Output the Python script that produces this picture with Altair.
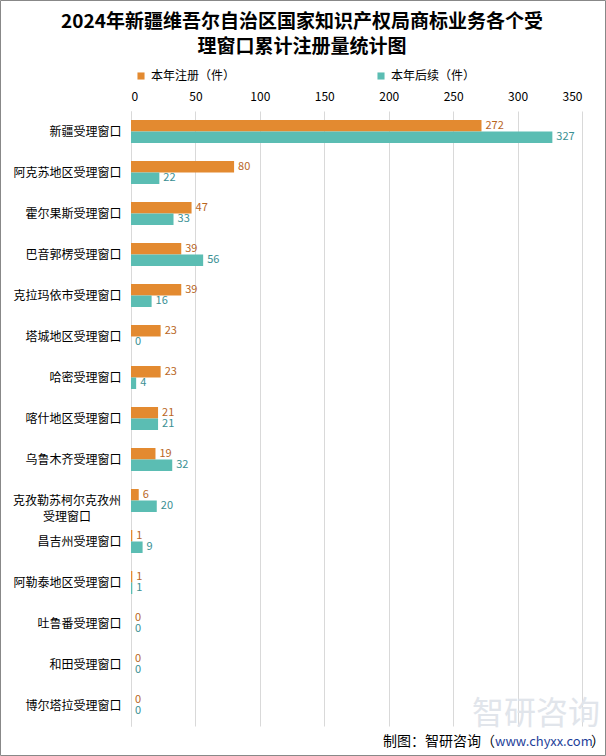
import altair as alt
import pandas as pd

categories = ["新疆受理窗口", "阿克苏地区受理窗口", "霍尔果斯受理窗口", "巴音郭楞受理窗口",
              "克拉玛依市受理窗口", "塔城地区受理窗口", "哈密受理窗口", "喀什地区受理窗口",
              "乌鲁木齐受理窗口", "克孜勒苏柯尔克孜州受理窗口", "昌吉州受理窗口",
              "阿勒泰地区受理窗口", "吐鲁番受理窗口", "和田受理窗口", "博尔塔拉受理窗口"]
registered = [272, 80, 47, 39, 39, 23, 23, 21, 19, 6, 1, 1, 0, 0, 0]
continued = [327, 22, 33, 56, 16, 0, 4, 21, 32, 20, 9, 1, 0, 0, 0]
series = ["本年注册（件）", "本年后续（件）"]
x_ticks = [0, 50, 100, 150, 200, 250, 300, 350]
title_lines = ["2024年新疆维吾尔自治区国家知识产权局商标业务各个受", "理窗口累计注册量统计图"]
long_cat = "克孜勒苏柯尔克孜州受理窗口"
long_cat_lines = "克孜勒苏柯尔克孜州\n受理窗口"

FONT = "Noto Sans CJK SC"
ORANGE = "#E38A30"
TEAL = "#5BBDB3"
ORANGE_LBL = "#B9661E"
TEAL_LBL = "#3A8F93"

rows = []
for c, r, k in zip(categories, registered, continued):
    rows.append({"cat": c, "series": series[0], "value": r})
    rows.append({"cat": c, "series": series[1], "value": k})
df = pd.DataFrame(rows)

W, H = 451, 615
L, T = 131, 111

y_scale = alt.Scale(domain=categories, paddingInner=0.44, paddingOuter=0.22)
y_enc = alt.Y("cat:N", sort=categories, scale=y_scale,
              axis=alt.Axis(title=None, labelFontSize=12, labelColor="#000000", labelFont=FONT,
                            labelPadding=10, ticks=False, domainColor="#D9D9D9",
                            labelLimit=200,
                            labelExpr="datum.value == '" + long_cat + "' ? '' : datum.value"))
x_enc = alt.X("value:Q", scale=alt.Scale(domain=[0, 350], nice=False),
              axis=alt.Axis(title=None, orient="top", values=x_ticks, labelFontSize=12,
                            labelColor="#000000", labelFont=FONT, ticks=False, domain=False,
                            gridColor="#D9D9D9", labelPadding=8))
yoff = alt.YOffset("series:N", sort=series, scale=alt.Scale(domain=series, paddingInner=0, paddingOuter=0))

base = alt.Chart(df)
bars = base.mark_bar().encode(
    y=y_enc, x=x_enc, yOffset=yoff,
    color=alt.Color("series:N", sort=series,
                    scale=alt.Scale(domain=series, range=[ORANGE, TEAL]),
                    legend=alt.Legend(title=None, orient="none", legendX=4, legendY=-41,
                                      direction="horizontal", symbolType="square", symbolSize=50,
                                      labelFontSize=12, labelFont=FONT, labelColor="#000000",
                                      columnPadding=139, symbolOffset=0, labelOffset=4)),
)

lbl_reg = base.transform_filter(alt.datum.series == series[0]).mark_text(
    align="left", baseline="middle", dx=4, fontSize=11, font=FONT, color=ORANGE_LBL
).encode(y=alt.Y("cat:N", sort=categories), x="value:Q", yOffset=yoff, text="value:Q")
lbl_con = base.transform_filter(alt.datum.series == series[1]).mark_text(
    align="left", baseline="middle", dx=4, fontSize=11, font=FONT, color=TEAL_LBL
).encode(y=alt.Y("cat:N", sort=categories), x="value:Q", yOffset=yoff, text="value:Q")

long_lbl = alt.Chart(pd.DataFrame({"cat": [long_cat], "t": [long_cat_lines]})).mark_text(
    align="center", baseline="middle", fontSize=12, font=FONT, color="#000000",
    lineBreak="\n", lineHeight=16
).encode(y=alt.Y("cat:N", sort=categories), x=alt.value(67 - L), text="t:N")

def deco_text(txt, x, y, **kw):
    return alt.Chart(pd.DataFrame({"t": [txt]})).mark_text(text=txt, font=FONT, **kw).encode(
        x=alt.value(x), y=alt.value(y))

t1 = deco_text(title_lines[0], 302 - L, 22 - T, fontSize=19, fontWeight="bold",
               align="center", baseline="middle", color="#000000")
t2 = deco_text(title_lines[1], 302 - L, 47 - T, fontSize=19, fontWeight="bold",
               align="center", baseline="middle", color="#000000")
wm = deco_text("智研咨询", 536 - L, 714 - T, fontSize=32, align="center", baseline="middle",
               color="#E1E5EB")
f1 = deco_text("制图：智研咨询（", 495 - L, 742 - T, fontSize=14, align="right",
               baseline="middle", color="#000000")
f2 = deco_text("www.chyxx.com", 495 - L, 742 - T, fontSize=13, align="left",
               baseline="middle", color="#1F3F9A")
f3 = deco_text("）", 591 - L, 742 - T, fontSize=14, align="left",
               baseline="middle", color="#000000")
border = alt.Chart(pd.DataFrame({"a": [0]})).mark_rect(
    fillOpacity=0, stroke="#888888", strokeWidth=1
).encode(x=alt.value(-L + 0.5), x2=alt.value(606 - L - 0.5),
         y=alt.value(-T + 0.5), y2=alt.value(756 - T - 0.5))

chart = alt.layer(wm, bars, lbl_reg, lbl_con, long_lbl, t1, t2, f1, f2, f3, border).properties(
    width=W, height=H,
    autosize=alt.AutoSizeParams(type="none"),
    padding={"left": L, "top": T, "right": 606 - L - W, "bottom": 756 - T - H},
    background="#FFFFFF",
).configure_view(strokeWidth=0)

chart.save("out.html", embed_options={"renderer": "svg", "actions": False})
